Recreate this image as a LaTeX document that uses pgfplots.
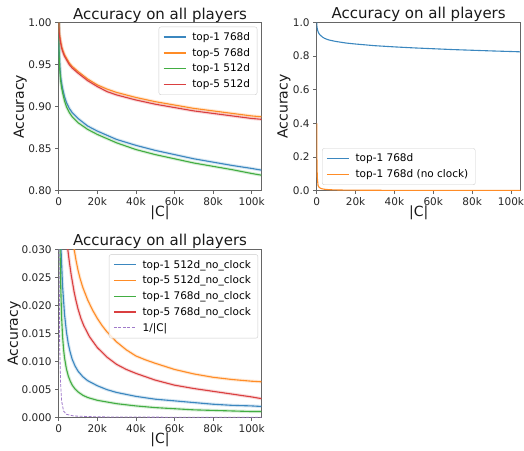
\documentclass[border=0pt]{standalone}
\usepackage{fontspec}
\setmainfont{DejaVu Sans}
\usepackage{pgfplots}
\usepackage{pgfplotstable}
\pgfplotsset{compat=1.18}

\definecolor{cblue}{HTML}{3B87BF}
\definecolor{corange}{HTML}{FF8C26}
\definecolor{cgreen}{HTML}{42AD42}
\definecolor{cred}{HTML}{DA3F40}
\definecolor{cpurple}{HTML}{A07ACA}

% top-1 / top-5, with clock
\pgfplotstableread{
x y
1 1.000
100 0.978
300 0.962
600 0.948
1000 0.936
1500 0.928
2000 0.922
3000 0.912
4000 0.905
5500 0.898
7000 0.893
10000 0.886
15000 0.877
20000 0.871
25000 0.866
30000 0.861
40000 0.854
50000 0.848
60000 0.843
70000 0.838
80000 0.834
90000 0.830
100000 0.8265
105000 0.8245
}\topAsev
\pgfplotstableread{
x y
1 1.000
200 0.991
500 0.985
1000 0.978
1500 0.972
2000 0.968
3000 0.962
4000 0.958
5500 0.952
7000 0.948
10000 0.942
15000 0.933
20000 0.926
25000 0.921
30000 0.917
40000 0.911
50000 0.906
60000 0.902
70000 0.898
80000 0.895
90000 0.892
100000 0.889
105000 0.888
}\topBsev
\pgfplotstableread{
x y
1 1.000
100 0.970
300 0.955
600 0.942
1000 0.931
1500 0.923
2000 0.917
3000 0.907
4000 0.900
5500 0.893
7000 0.888
10000 0.881
15000 0.873
20000 0.867
25000 0.862
30000 0.857
40000 0.849
50000 0.843
60000 0.838
70000 0.833
80000 0.829
90000 0.825
100000 0.8205
105000 0.8185
}\topAfiv
\pgfplotstableread{
x y
1 1.000
200 0.989
500 0.983
1000 0.976
1500 0.970
2000 0.966
3000 0.960
4000 0.956
5500 0.950
7000 0.946
10000 0.940
15000 0.931
20000 0.924
25000 0.918
30000 0.914
40000 0.908
50000 0.903
60000 0.899
70000 0.895
80000 0.892
90000 0.889
100000 0.886
105000 0.885
}\topBfiv

% no clock
\pgfplotstableread{
x y
1 1.000
100 0.300
500 0.060
1200 0.030
2000 0.0235
3000 0.0185
4000 0.0153
5000 0.0131
6000 0.0116
7000 0.0104
8500 0.0092
10000 0.0083
12500 0.0073
15000 0.0066
20000 0.0057
25000 0.0050
30000 0.0045
40000 0.0038
50000 0.0033
60000 0.0030
70000 0.0027
80000 0.0024
90000 0.0022
100000 0.0021
105000 0.0020
}\ncAfiv
\pgfplotstableread{
x y
1 1.000
1000 0.150
4000 0.050
8000 0.0300
9000 0.0280
10000 0.0263
11000 0.0249
12500 0.0232
15000 0.0210
17500 0.0192
20000 0.0177
22500 0.0164
25000 0.0153
30000 0.0135
35000 0.0121
40000 0.0110
45000 0.0103
50000 0.0097
60000 0.0086
70000 0.0078
80000 0.0072
90000 0.0068
100000 0.0065
105000 0.0064
}\ncBfiv
\pgfplotstableread{
x y
1 0.400
30 0.300
100 0.200
300 0.080
700 0.030
1000 0.0240
1500 0.0180
2000 0.0145
2500 0.0123
3000 0.0107
4000 0.0087
5000 0.0074
6000 0.0065
7000 0.0058
8500 0.0051
10000 0.0046
12500 0.0040
15000 0.0036
20000 0.0031
30000 0.0025
40000 0.0021
50000 0.0018
60000 0.0016
70000 0.0014
80000 0.0013
90000 0.0012
100000 0.0011
105000 0.0011
}\ncAsev
\pgfplotstableread{
x y
1 1.000
500 0.150
2000 0.060
4700 0.0300
5500 0.0278
6500 0.0254
8000 0.0224
9000 0.0208
10000 0.0194
11500 0.0177
13000 0.0164
16000 0.0144
20000 0.0125
25000 0.0108
30000 0.0095
35000 0.0086
40000 0.0079
50000 0.0067
60000 0.0058
70000 0.0052
80000 0.0047
90000 0.0042
100000 0.0037
105000 0.0034
}\ncBsev
\pgfplotstableread{
x y
20 0.200
200 0.030
500 0.013
1000 0.006
1500 0.003
2500 0.0012
4000 0.0006
8000 0.0003
20000 0.00015
50000 0.0001
105000 0.00008
}\invC

\pgfplotsset{
  legend image code/.code={\draw[#1] (0pt,0pt) -- (22pt,0pt);},
  myax/.style={
    scale only axis,
    anchor=south west,
    xmin=0, xmax=105000,
    xtick={0,20000,40000,60000,80000,100000},
    xticklabels={0,20k,40k,60k,80k,100k},
    scaled ticks=false,
    tick pos=left,
    tick align=outside,
    major tick length=3.5pt,
    axis line style={draw=black!60, line width=0.6pt},
    tick style={draw=black!60, line width=0.6pt},
    ticklabel style={font=\fontsize{10.5}{12}\selectfont, text=black!85},
    /pgf/number format/assume math mode=true,
    title={Accuracy on all players},
    every axis title/.style={at={(axis description cs:0.5,1.022)}, anchor=base, font=\fontsize{15}{18}\selectfont, text=black!90},
    xlabel={|C|}, ylabel={Accuracy},
    every axis x label/.style={at={(axis description cs:0.5,-0.133)}, anchor=center, font=\fontsize{14}{16}\selectfont, text=black!90},
    legend style={font=\fontsize{10.5}{12}\selectfont, draw=black!20, rounded corners=2pt, fill=white, fill opacity=0.8, text opacity=1, draw opacity=1, inner xsep=4pt, inner ysep=2.5pt, nodes={inner sep=3pt}, row sep=0.3pt, column sep=3pt},
    legend cell align=left,
  },
  band/.style={line width=3.2pt, opacity=0.2},
  ln/.style={line width=1.1pt},
  lg/.style={line width=1.4pt},
}

\begin{document}
\begin{tikzpicture}
\useasboundingbox (0,0) rectangle (524pt,450pt);

% top left
\begin{axis}[myax, at={(58.7pt,259.3pt)}, width=202.6pt, height=168pt,
  ymin=0.80, ymax=1.00, ytick={0.80,0.85,0.90,0.95,1.00},
  yticklabel style={/pgf/number format/.cd, fixed, fixed zerofill, precision=2},
  every axis y label/.style={at={(axis description cs:-0.19,0.5)}, rotate=90, anchor=center, font=\fontsize{14}{16}\selectfont, text=black!90},
  legend style={at={(0.98,0.976)}, anchor=north east}]
\addlegendimage{lg, cblue}
\addlegendimage{lg, corange}
\addlegendimage{lg, cgreen}
\addlegendimage{lg, cred}
\addplot[forget plot, band, cblue] table {\topAsev};
\addplot[forget plot, ln, cblue] table {\topAsev};
\addplot[forget plot, band, corange] table {\topBsev};
\addplot[forget plot, ln, corange] table {\topBsev};
\addplot[forget plot, band, cgreen] table {\topAfiv};
\addplot[forget plot, ln, cgreen] table {\topAfiv};
\addplot[forget plot, band, cred] table {\topBfiv};
\addplot[forget plot, ln, cred] table {\topBfiv};
\legend{top-1 768d, top-5 768d, top-1 512d, top-5 512d}
\end{axis}

% top right
\begin{axis}[myax, at={(316.7pt,259.3pt)}, width=204pt, height=168.4pt,
  ymin=0, ymax=1.0, ytick={0,0.2,0.4,0.6,0.8,1.0},
  yticklabel style={/pgf/number format/.cd, fixed, fixed zerofill, precision=1},
  every axis y label/.style={at={(axis description cs:-0.16,0.5)}, rotate=90, anchor=center, font=\fontsize{14}{16}\selectfont, text=black!90},
  legend style={at={(0.026,0.034)}, anchor=south west}]
\addlegendimage{lg, cblue}
\addlegendimage{lg, corange}
\addplot[forget plot, ln, cblue] table {\topAsev};
\addplot[forget plot, ln, corange] table {\ncAsev};
\legend{top-1 768d, top-1 768d (no clock)}
\end{axis}

% bottom left
\begin{axis}[myax, at={(58.7pt,32.3pt)}, width=202.6pt, height=168.4pt,
  ymin=0, ymax=0.030, ytick={0,0.005,0.010,0.015,0.020,0.025,0.030},
  yticklabel style={/pgf/number format/.cd, fixed, fixed zerofill, precision=3},
  every axis y label/.style={at={(axis description cs:-0.22,0.5)}, rotate=90, anchor=center, font=\fontsize{14}{16}\selectfont, text=black!90},
  legend style={at={(0.984,0.970)}, anchor=north east}]
\addlegendimage{lg, cblue}
\addlegendimage{lg, corange}
\addlegendimage{lg, cgreen}
\addlegendimage{lg, cred}
\addlegendimage{cpurple, line width=0.9pt, dash pattern=on 3pt off 1.5pt}
\addplot[forget plot, band, cblue] table {\ncAfiv};
\addplot[forget plot, ln, cblue] table {\ncAfiv};
\addplot[forget plot, band, corange] table {\ncBfiv};
\addplot[forget plot, ln, corange] table {\ncBfiv};
\addplot[forget plot, band, cgreen] table {\ncAsev};
\addplot[forget plot, ln, cgreen] table {\ncAsev};
\addplot[forget plot, band, cred] table {\ncBsev};
\addplot[forget plot, ln, cred] table {\ncBsev};
\addplot[forget plot, cpurple, line width=0.8pt, dash pattern=on 3pt off 1.5pt] table {\invC};
\legend{top-1 512d\_no\_clock, top-5 512d\_no\_clock, top-1 768d\_no\_clock, top-5 768d\_no\_clock, 1/|C|}
\end{axis}
\end{tikzpicture}
\end{document}
